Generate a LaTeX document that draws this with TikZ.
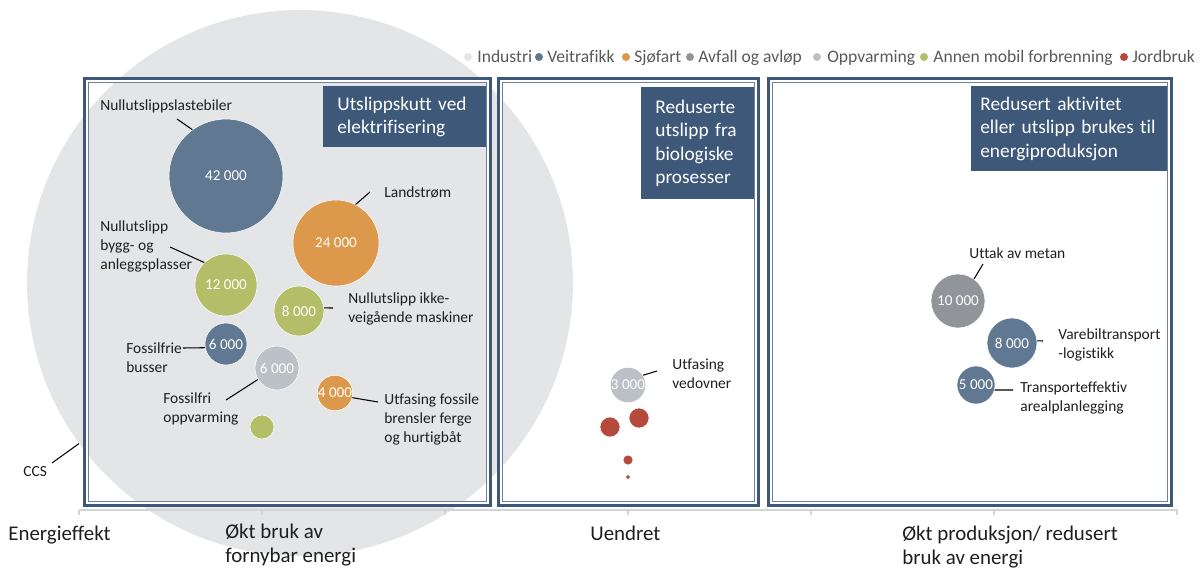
\documentclass[tikz,border=0pt]{standalone}
\usepackage{fontspec}
\setmainfont{Carlito}[Ligatures=NoCommon]
\definecolor{frameblue}{RGB}{61,88,120}
\definecolor{veitrafikk}{RGB}{96,120,146}
\definecolor{sjofart}{RGB}{220,152,75}
\definecolor{avfall}{RGB}{145,148,152}
\definecolor{oppvarming}{RGB}{188,193,199}
\definecolor{mobil}{RGB}{180,189,104}
\definecolor{jordbruk}{RGB}{181,74,60}
\definecolor{industri}{RGB}{228,229,231}
\definecolor{axisgray}{RGB}{212,212,212}
\definecolor{labeltext}{RGB}{30,30,30}
\begin{document}
\begin{tikzpicture}[x=0.02cm,y=-0.02cm,
    bub/.style 2 args={circle,fill=#1,draw=white,line width=0.3pt,minimum size=#2*0.4mm,inner sep=0pt,text=white,font=\fontsize{8.6}{10}\selectfont},
    lbl/.style={anchor=west,inner sep=0pt,align=left,text=labeltext,font=\fontsize{8.8}{10.8}\selectfont},
    ttl/.style={anchor=north west,fill=frameblue,text=white,inner xsep=0.28cm,inner ysep=0pt,align=left,font=\fontsize{11}{13.3}\selectfont},
    axlbl/.style={anchor=west,inner sep=0pt,align=left,text=labeltext,font=\fontsize{11.9}{13.6}\selectfont},
    leg/.style={anchor=west,inner sep=0pt,text height=1.6ex,text depth=0.4ex,text=black!65,font=\fontsize{10}{12}\selectfont},
    dot/.style={circle,fill=#1,minimum size=0.16cm,inner sep=0pt},
    panelout/.style={draw=frameblue,line width=1.7pt},
    panelgap/.style={draw=white,line width=0.9pt},
    panelin/.style={draw=frameblue!75,line width=0.45pt},
    leader/.style={draw=black,line width=0.6pt}]
  \useasboundingbox (0,0) rectangle (1200,569);
  \node[circle,fill=industri,minimum size=10.92cm,inner sep=0pt] (ccs) at (300,283) {};
  \draw[axisgray,line width=0.6pt]
    (79,510) -- (1178,510)
    (79,510) -- (79,515) (262,510) -- (262,515) (445,510) -- (445,515)
    (628,510) -- (628,515) (811,510) -- (811,515) (994,510) -- (994,515)
    (1177,510) -- (1177,515);
  \draw
    (226,176) node[bub={veitrafikk}{57}] (b42) {42 000}
    (336,243) node[bub={sjofart}{43}] (b24) {24 000}
    (226,285) node[bub={mobil}{31}] (b12) {12 000}
    (299,311) node[bub={mobil}{25}] (b8m) {8 000}
    (226,344) node[bub={veitrafikk}{21}] (b6v) {6 000}
    (277,368) node[bub={oppvarming}{22}] (b6o) {6 000}
    (335,393) node[bub={sjofart}{17}] (b4) {4 000}
    (262,427) node[bub={mobil}{12}] (bm) {}
    (628,385) node[bub={oppvarming}{15}] (b3) {3 000}
    (610,427) node[bub={jordbruk}{10}] (bj1) {}
    (639,418) node[bub={jordbruk}{10}] (bj2) {}
    (628,460) node[bub={jordbruk}{5}] (bj3) {}
    (628,477) node[bub={jordbruk}{2.2}] (bj4) {}
    (958,301) node[bub={avfall}{27}] (b10) {10 000}
    (1012,343) node[bub={veitrafikk}{25}] (b8v) {8 000}
    (976,385) node[bub={veitrafikk}{19}] (b5) {5 000};
  \coordinate (c42) at (177,119);
  \coordinate (c24) at (370,192);
  \coordinate (c12) at (170,247);
  \coordinate (c8m) at (333,308);
  \coordinate (c6v) at (183,348);
  \coordinate (c6o) at (226,400);
  \coordinate (c4) at (378,402);
  \coordinate (cccs) at (52,463);
  \coordinate (c3) at (657,371);
  \coordinate (c10) at (983,264);
  \coordinate (c8v) at (1043,341);
  \coordinate (c5) at (1013,390);
  \begin{scope}[leader]
    \draw (b42.126) to (c42);
    \draw (b24.63) to (c24);
    \draw (b12.134) to (c12);
    \draw (b8m.7) to (c8m);
    \draw (b6v.190) to (c6v);
    \draw (b6o.211) to (c6o);
    \draw (b4.-15) to (c4);
    \draw (ccs.216) to (cccs);
    \draw (b3.33) to (c3);
    \draw (b10.54) to (c10);
    \draw (b8v.5) to (c8v);
    \draw (b5.-15) to (c5);
  \end{scope}
  \draw
    (100,106) node[lbl] (l42) {Nullutslippslastebiler}
    (384,192) node[lbl] (l24) {Landstrøm}
    (100,246) node[lbl] (l12) {Nullutslipp\\bygg- og\\anleggsplasser}
    (348,309) node[lbl] (l8m) {Nullutslipp ikke-\\veigående maskiner}
    (126,357.5) node[lbl] (l6v) {Fossilfrie\\busser}
    (163,408.5) node[lbl] (l6o) {Fossilfri\\oppvarming}
    (384,419) node[lbl] (l4) {Utfasing fossile\\brensler ferge\\og hurtigbåt}
    (23,472) node[lbl] (lccs) {CCS}
    (672,374) node[lbl] (l3) {Utfasing\\vedovner}
    (969,253) node[lbl] (l10) {Uttak av metan}
    (1058,345) node[lbl] (l8v) {Varebiltransport\\-logistikk}
    (1020,397.5) node[lbl] (l5) {Transporteffektiv\\arealplanlegging};
  \draw
    (323,86) node[ttl,minimum width=3.3cm,minimum height=1.22cm,text width=2.74cm] (t1) {Utslippskutt ved\\elektrifisering}
    (641,87) node[ttl,minimum width=2.34cm,minimum height=2.24cm,text width=1.78cm] (t2) {Reduserte\\utslipp fra\\biologiske\\prosesser}
    (971,86) node[ttl,inner xsep=0.18cm,minimum width=3.98cm,minimum height=1.7cm,text width=3.62cm] (t3) {Redusert aktivitet\\eller utslipp brukes til\\energiproduksjon};
  \draw[panelout] (84.5,78.5) rectangle (490.5,505);
  \draw[panelgap] (86.8,80.8) rectangle (488.2,502.7);
  \draw[panelin] (88.2,82.2) rectangle (486.8,501.3);
  \draw[panelout] (498.5,78.5) rectangle (758.5,505);
  \draw[panelgap] (500.8,80.8) rectangle (756.2,502.7);
  \draw[panelin] (502.2,82.2) rectangle (754.8,501.3);
  \draw[panelout] (768.5,78.5) rectangle (1171.5,505);
  \draw[panelgap] (770.8,80.8) rectangle (1169.2,502.7);
  \draw[panelin] (772.2,82.2) rectangle (1167.8,501.3);
  \draw
    (468,57) node[dot=industri] (d1) {}
    (477,57) node[leg] (g1) {Industri}
    (539,57) node[dot=veitrafikk] (d2) {}
    (547,57) node[leg] (g2) {Veitrafikk}
    (626,57) node[dot=sjofart] (d3) {}
    (634,57) node[leg] (g3) {Sjøfart}
    (690,57) node[dot=avfall] (d4) {}
    (698,57) node[leg] (g4) {Avfall og avløp}
    (817,57) node[dot=oppvarming] (d5) {}
    (827,57) node[leg] (g5) {Oppvarming}
    (924,57) node[dot=mobil] (d6) {}
    (933,57) node[leg] (g6) {Annen mobil forbrenning}
    (1124,57) node[dot=jordbruk] (d7) {}
    (1132,57) node[leg] (g7) {Jordbruk};
  \draw
    (8,535) node[axlbl] (a1) {Energieffekt}
    (225,545) node[axlbl] (a2) {Økt bruk av\\fornybar energi}
    (590,533) node[axlbl] (a3) {Uendret}
    (902,547) node[axlbl] (a4) {Økt produksjon/ redusert\\bruk av energi};
\end{tikzpicture}
\end{document}
